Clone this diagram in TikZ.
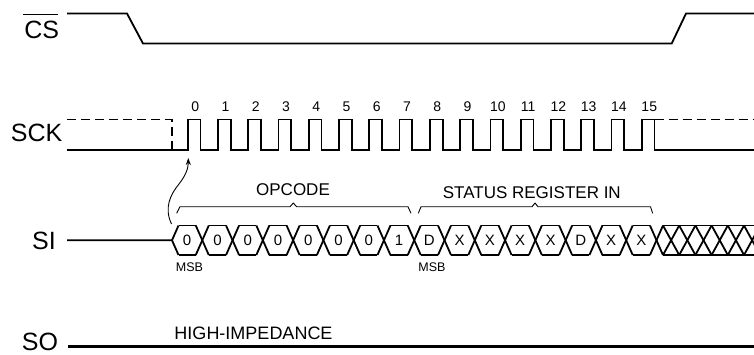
\documentclass[tikz,border=0pt]{standalone}
\usepackage{fontspec}
\setmainfont{Liberation Sans}
\usetikzlibrary{arrows.meta}
\begin{document}
\begin{tikzpicture}[x=1pt,y=-1pt,
  sig/.style={line width=1.8pt, line join=miter},
  dsig/.style={line width=1.8pt, dash pattern=on 9pt off 5pt},
  thinline/.style={line width=0.9pt, line join=round},
  lbl/.style={font=\fontsize{25}{25}\selectfont, inner sep=0pt},
  num/.style={font=\fontsize{14}{14}\selectfont, inner sep=0pt},
  cell/.style={font=\fontsize{15}{15}\selectfont, inner sep=0pt},
  capt/.style={font=\fontsize{17}{17}\selectfont, inner sep=0pt},
  msb/.style={font=\fontsize{12.5}{12.5}\selectfont, inner sep=0pt}]
\useasboundingbox (0,0) rectangle (754,354);
\clip (0,0) rectangle (754,354);
\fill[white] (0,0) rectangle (754,354);

% ---- labels
\node[lbl] (cs) at (41.7,30) {CS};
\draw[line width=1.4pt] (23.3,14.3) -- (58.3,14.3);
\node[lbl] (sck) at (36.7,132.5) {SCK};
\node[lbl] (si) at (44,241) {SI};
\node[lbl] (so) at (40,341.5) {SO};

% ---- CS
\draw[sig] (67,13.5) -- (127,13.5) -- (143,43.5) -- (671.7,43.5) -- (686,13.5) -- (754,13.5);

% ---- SCK
\draw[dsig] (67,119.5) -- (172,119.5) -- (172,150);
\draw[dsig] (654.5,119.5) -- (754,119.5);
\draw[sig] (67,150) -- (187.7,150)
  \foreach \k in {0,...,15} { -- ({187.7+30.27*\k},150) -- ++(0,-30.5) -- ++(12.8,0) -- ++(0,30.5) } -- (754,150);
\foreach \k in {0,...,15} \node[num] (n\k) at ({187.7+30.27*\k+7.5},107) {\k};

% ---- SI
\def\top{225.5}\def\bot{255}\def\mid{240.25}\def\s{6.5}
\draw[sig] (67,\mid) -- (172,\mid) -- (172+\s,\top);
\draw[sig] (172,\mid) -- (172+\s,\bot);
\foreach \k in {0,...,15} {
  \pgfmathsetmacro\ca{172+30.28*\k}
  \pgfmathsetmacro\cb{172+30.28*(\k+1)}
  \draw[sig] (\ca+\s,\top) -- (\cb-\s,\top);
  \draw[sig] (\ca+\s,\bot) -- (\cb-\s,\bot);
  \draw[sig] (\cb-\s,\top) -- (\cb+\s,\bot);
  \draw[sig] (\cb-\s,\bot) -- (\cb+\s,\top);
}
\foreach \t [count=\i from 0] in {0,0,0,0,0,0,0,1,D,X,X,X,X,D,X,X}
  \node[cell] (b\i) at ({172+30.28*(\i+0.5)},\mid) {\t};
% don't-care region
\draw[sig] (663,\top) -- (754,\top);
\draw[sig] (663,\bot) -- (754,\bot);
\foreach \j in {0,...,6} {
  \draw[sig] ({663+16.2*\j},\top) -- ({663+16.2*(\j+1)},\bot);
  \draw[sig] ({663+16.2*\j},\bot) -- ({663+16.2*(\j+1)},\top);
}
\node[msb] (msb1) at (189.5,267) {MSB};
\node[msb] (msb2) at (432,267) {MSB};

% ---- braces
\draw[thinline] (176.7,213.3) -- (180,206.7) -- (290,206.7) -- (293.3,203) -- (296.6,206.7) -- (408,206.7) -- (411,213.3);
\node[capt] (opc) at (293,189.5) {OPCODE};
\draw[thinline] (418.3,213.3) -- (421,206.7) -- (532,206.7) -- (535,203) -- (538,206.7) -- (650.5,206.7) -- (652.7,213.3);
\node[capt] (sri) at (531.8,192.7) {STATUS REGISTER IN};

% ---- arrow
\coordinate (a1) at (171.5,224);
\coordinate (a2) at (188.3,158);
\draw[thinline, -{Stealth[length=7pt,width=5pt]}] (a1) .. controls (164,208) and (170,195) .. (179,184) .. controls (186,175) and (188.3,168) .. (a2);

% ---- SO
\draw[line width=2.2pt] (68,346.5) -- (754,346.5);
\node[capt, font=\fontsize{18}{18}\selectfont] (hi) at (253.5,333.3) {HIGH-IMPEDANCE};
\end{tikzpicture}
\end{document}
